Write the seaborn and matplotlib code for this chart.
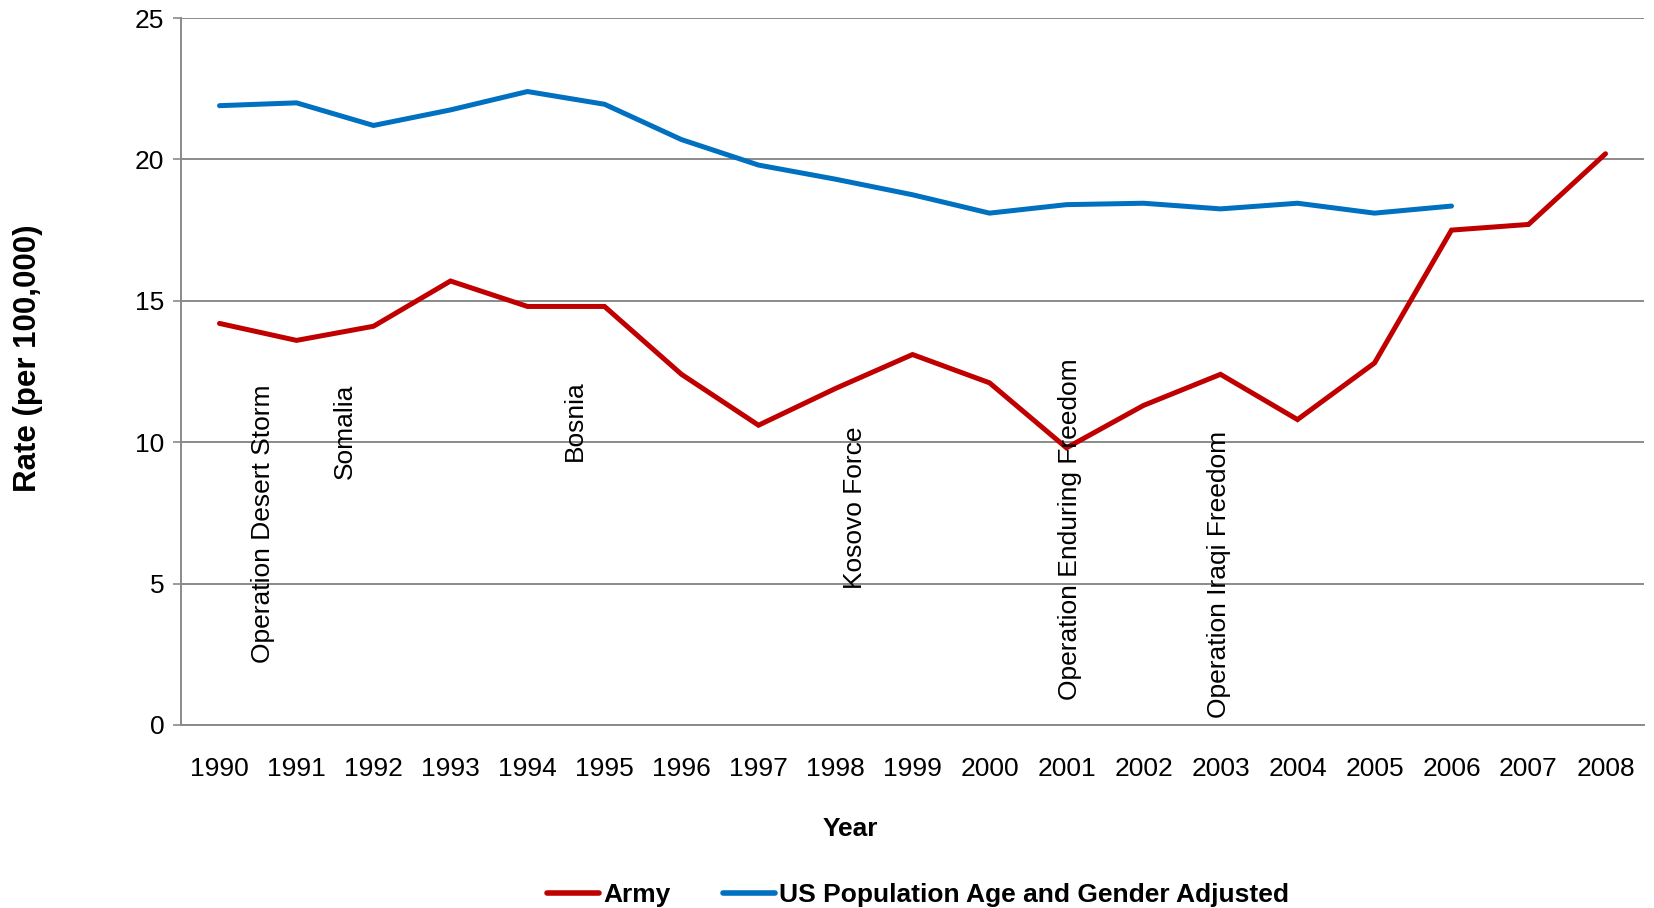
import matplotlib
matplotlib.use("Agg")
import matplotlib.pyplot as plt
import seaborn as sns
import pandas as pd
import numpy as np
from matplotlib.lines import Line2D
from matplotlib.ticker import FixedLocator

years = list(range(1990, 2009))
army = [14.2, 13.6, 14.1, 15.7, 14.8, 14.8, 12.4, 10.6, 11.9, 13.1, 12.1, 9.8,
        11.3, 12.4, 10.8, 12.8, 17.5, 17.7, 20.2]
us_years = list(range(1990, 2007))
us_pop = [21.9, 22.0, 21.2, 21.75, 22.4, 21.95, 20.7, 19.8, 19.3, 18.75, 18.1,
          18.4, 18.45, 18.25, 18.45, 18.1, 18.35]
series_names = ["Army", "US Population Age and Gender Adjusted"]
events = ["Operation Desert Storm", "Somalia", "Bosnia", "Kosovo Force",
          "Operation Enduring Freedom", "Operation Iraqi Freedom"]
# annotation anchor positions (x in year units, y = bottom of rotated text)
event_x = [1990.56, 1991.63, 1994.62, 1998.25, 2001.04, 2002.98]
event_y = [2.2, 8.7, 9.35, 4.8, 0.9, 0.25]

df = pd.concat([
    pd.DataFrame({"Year": years, "Rate": army, "Series": series_names[0]}),
    pd.DataFrame({"Year": us_years, "Rate": us_pop, "Series": series_names[1]}),
])

sns.set_theme(style="white")
plt.rcParams["font.family"] = ["Liberation Sans", "DejaVu Sans"]
plt.rcParams["text.color"] = "black"
plt.rcParams["axes.labelcolor"] = "black"

W, H = 1654, 908
fig = plt.figure(figsize=(W / 100, H / 100), dpi=100)
ax = fig.add_axes([181 / W, (H - 725) / H, (1644 - 181) / W, (725 - 18) / H])

palette = {series_names[0]: "#C00000", series_names[1]: "#0070C0"}
sns.lineplot(data=df, x="Year", y="Rate", hue="Series", palette=palette,
             linewidth=3.6, ax=ax, legend=False, sort=True)
for ln in ax.lines:
    ln.set_solid_capstyle("round")
    ln.set_solid_joinstyle("miter")

ax.set_xlim(1989.5, 2008.5)
ax.set_ylim(0, 25)
ax.set_yticks([0, 5, 10, 15, 20, 25])
ax.set_xticks(years)
ax.set_xticklabels([str(y) for y in years])
ax.xaxis.set_minor_locator(FixedLocator(np.arange(1989.5, 2009.0, 1.0)))

gc = "#8a8a8a"
ax.yaxis.grid(True, color=gc, linewidth=1.4)
ax.xaxis.grid(False)
for s in ["top", "right"]:
    ax.spines[s].set_visible(False)
ax.spines["left"].set_color(gc)
ax.spines["bottom"].set_color(gc)
ax.spines["left"].set_linewidth(1.4)
ax.spines["bottom"].set_linewidth(1.4)

ax.tick_params(axis="x", which="major", length=0, labelsize=19, pad=23, labelcolor="black")
ax.tick_params(axis="x", which="minor", length=7, width=1.2, color=gc, direction="out")
ax.tick_params(axis="y", which="major", length=6, width=1.2, color=gc, labelsize=19,
               labelcolor="black", pad=6, direction="out", left=True)

ax.set_xlabel("Year", fontsize=19, fontweight="bold")
ax.xaxis.set_label_coords((850 - 181) / 1463, -92 / 707)
ax.set_ylabel("Rate (per 100,000)", fontsize=22.5, fontweight="bold")
ax.yaxis.set_label_coords((43 - 181) / 1463, (725 - 358) / 707)

for txt, x, y in zip(events, event_x, event_y):
    ax.text(x, y, txt, rotation=90, ha="center", va="bottom", fontsize=19, color="black")

handles = [Line2D([0], [0], color=palette[n], linewidth=4, solid_capstyle="round")
           for n in series_names]
leg = fig.legend(handles, series_names, loc="center", bbox_to_anchor=(0.555, 1 - 895 / H),
                 ncol=2, frameon=False, handlelength=1.97, handletextpad=0.15,
                 columnspacing=2.0, prop={"weight": "bold", "size": 19})
for t in leg.get_texts():
    t.set_color("black")

fig.savefig("out.png", dpi=100)
